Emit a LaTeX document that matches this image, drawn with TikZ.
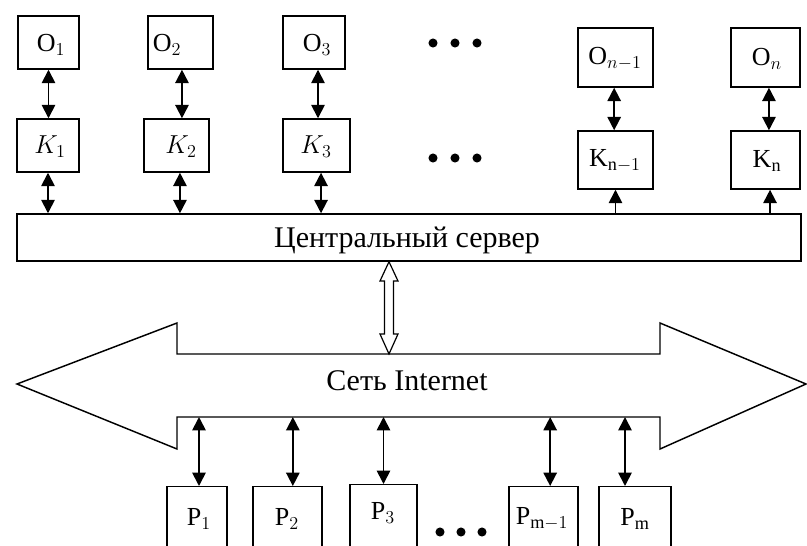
\RequirePackage{fix-cm}
\documentclass[tikz,border=0pt]{standalone}
\usepackage{fontspec}
\setmainfont{Liberation Serif}
\usetikzlibrary{arrows.meta}
\begin{document}
\begin{tikzpicture}[x=0.75pt,y=-0.75pt,
  box/.style={draw, line width=1.1pt, inner sep=0pt, fill=white},
  lbl/.style={font=\fontsize{19.5}{23}\selectfont, inner sep=0pt},
  big/.style={font=\fontsize{22.5}{27}\selectfont, inner sep=0pt},
  link/.style={line width=1.3pt, {Triangle[width=10pt,length=10pt]}-{Triangle[width=10pt,length=10pt]}},
  uplink/.style={line width=1.3pt, -{Triangle[width=10pt,length=10pt]}},
  dot/.style={fill=black}]
\useasboundingbox (0,0) rectangle (807,546);
\clip (0,0) rectangle (807,546);

% O boxes
\node[box, minimum width=61*0.75pt, minimum height=53*0.75pt] (o1) at (48.5,42.5) {};
\node[box, minimum width=65*0.75pt, minimum height=53*0.75pt] (o2) at (180.5,42.5) {};
\node[box, minimum width=62*0.75pt, minimum height=53*0.75pt] (o3) at (314,42.5) {};
\node[box, minimum width=75*0.75pt, minimum height=59*0.75pt] (on1) at (615.5,57.5) {};
\node[box, minimum width=69*0.75pt, minimum height=59*0.75pt] (on) at (765.5,57.5) {};
% K boxes
\node[box, minimum width=62*0.75pt, minimum height=53*0.75pt] (k1) at (48,145.5) {};
\node[box, minimum width=65*0.75pt, minimum height=53*0.75pt] (k2) at (176.5,145.5) {};
\node[box, minimum width=67*0.75pt, minimum height=53*0.75pt] (k3) at (316.5,145.5) {};
\node[box, minimum width=75*0.75pt, minimum height=58*0.75pt] (kn1) at (615.5,160) {};
\node[box, minimum width=69*0.75pt, minimum height=58*0.75pt] (kn) at (765.5,160) {};
% server
\node[box, minimum width=784*0.75pt, minimum height=47*0.75pt] (srv) at (409,237.5) {};
\node[big] (srvt) at (407,240) {Центральный сервер};

% labels
\node[lbl] (o1t) at (51,45) {$\mathrm{O}_1$};
\node[lbl] (o2t) at (167,45) {$\mathrm{O}_2$};
\node[lbl] (o3t) at (317,45) {$\mathrm{O}_3$};
\node[lbl] (on1t) at (615,59) {$\mathrm{O}_{n-1}$};
\node[lbl] (ont) at (767,59) {$\mathrm{O}_{n}$};
\node[lbl] (k1t) at (50,147) {$K_1$};
\node[lbl] (k2t) at (181,147) {$K_2$};
\node[lbl] (k3t) at (316,147) {$K_3$};
\node[lbl] (kn1t) at (615,161) {$\mathrm{K}_{\mathrm{n}-1}$};
\node[lbl] (knt) at (767,161) {$\mathrm{K}_{\mathrm{n}}$};

% dots
\fill[dot] (433,43) circle (3.4pt) (455,43) circle (3.4pt) (477,43) circle (3.4pt);
\fill[dot] (433,158) circle (3.4pt) (455,158) circle (3.4pt) (477,158) circle (3.4pt);
\fill[dot] (440,532) circle (3.4pt) (461,532) circle (3.4pt) (482,532) circle (3.4pt);

% O-K links
\draw[link] (o1.south) -- (o1.south |- k1.north);
\draw[link] ([xshift=1.1pt]o2.south) -- ([xshift=1.1pt]o2.south |- k2.north);
\draw[link] ([xshift=3pt]o3.south) -- ([xshift=3pt]o3.south |- k3.north);
\draw[link] ([xshift=-1pt]on1.south) -- ([xshift=-1pt]on1.south |- kn1.north);
\draw[link] ([xshift=2.6pt]on.south) -- ([xshift=2.6pt]on.south |- kn.north);
% K-server links
\draw[link] (k1.south) -- (k1.south |- srv.north);
\draw[link] ([xshift=2.6pt]k2.south) -- ([xshift=2.6pt]k2.south |- srv.north);
\draw[link] ([xshift=3.4pt]k3.south) -- ([xshift=3.4pt]k3.south |- srv.north);
\draw[uplink] (kn1.south |- srv.north) -- (kn1.south);
\draw[uplink] ([xshift=3.4pt]kn.south |- srv.north) -- ([xshift=3.4pt]kn.south);

% big Internet arrow
\coordinate (nettop) at (177,354);
\coordinate (netbot) at (177,417);
\draw[line width=1.1pt, line join=miter, fill=white]
  (17,384) -- (177,323) -- (177,354) -- (660,354) -- (660,323) -- (806,384)
  -- (660,449) -- (660,417) -- (177,417) -- (177,449) -- cycle;
\node[big] (net) at (407,381) {Сеть Internet};

% hollow double arrow server <-> internet
\draw[line width=0.9pt, fill=white, line join=miter]
  (srv.south -| 389,0) -- (398,281) -- (393.5,281) -- (393.5,334) -- (398,334)
  -- (nettop -| 389,0) -- (380,334) -- (384.5,334) -- (384.5,281) -- (380,281) -- cycle;

% P boxes
\node[box, anchor=north, minimum width=60*0.75pt, minimum height=80*0.75pt] (p1) at (197,486) {};
\node[box, anchor=north, minimum width=69*0.75pt, minimum height=80*0.75pt] (p2) at (287.5,486) {};
\node[box, anchor=north, minimum width=67*0.75pt, minimum height=80*0.75pt] (p3) at (383.5,484) {};
\node[box, anchor=north, minimum width=69*0.75pt, minimum height=80*0.75pt] (pm1) at (543.5,486) {};
\node[box, anchor=north, minimum width=72*0.75pt, minimum height=80*0.75pt] (pm) at (635,486) {};
\node[lbl] (p1t) at (199,519) {$\mathrm{P}_1$};
\node[lbl] (p2t) at (287,519) {$\mathrm{P}_2$};
\node[lbl] (p3t) at (383,513) {$\mathrm{P}_3$};
\node[lbl] (pm1t) at (542,519) {$\mathrm{P}_{\mathrm{m}-1}$};
\node[lbl] (pmt) at (635,519) {$\mathrm{P}_{\mathrm{m}}$};

% P links
\draw[link] ([xshift=1.5pt]p1.north |- netbot) -- ([xshift=1.5pt]p1.north);
\draw[link] ([xshift=4pt]p2.north |- netbot) -- ([xshift=4pt]p2.north);
\draw[link] (p3.north |- netbot) -- (p3.north);
\draw[link] ([xshift=5pt]pm1.north |- netbot) -- ([xshift=5pt]pm1.north);
\draw[link] ([xshift=-7.5pt]pm.north |- netbot) -- ([xshift=-7.5pt]pm.north);
\end{tikzpicture}
\end{document}
